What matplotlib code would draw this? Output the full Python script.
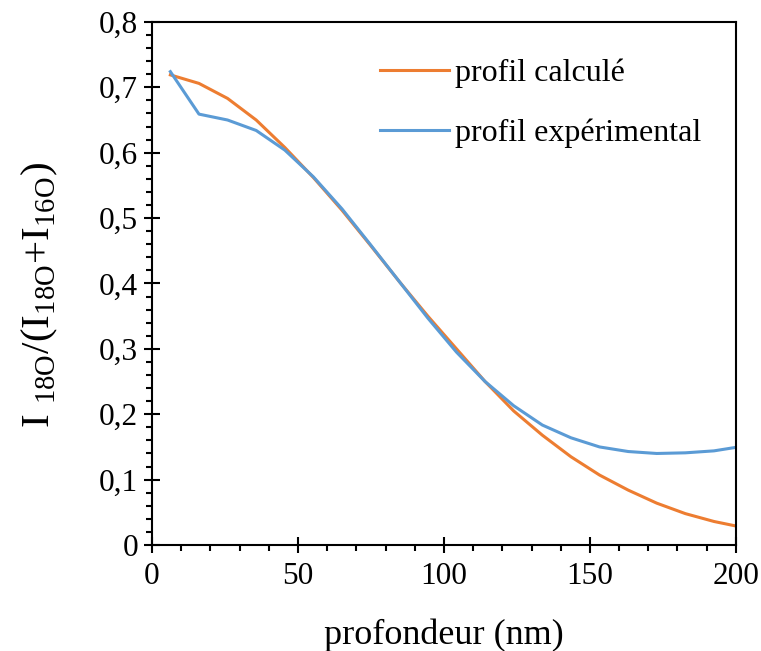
import numpy as np
import matplotlib
matplotlib.use("Agg")
import matplotlib.pyplot as plt
from matplotlib.ticker import MultipleLocator, FuncFormatter

# depth (nm) and intensity ratio
profondeur = [6.3, 16.1, 25.9, 35.7, 45.5, 55.3, 65.1, 74.9, 84.7, 94.5, 104.3,
              114.1, 123.9, 133.7, 143.5, 153.3, 163.1, 172.9, 182.7, 192.5, 202.3]
profil_calcule = [0.719, 0.706, 0.683, 0.650, 0.608, 0.562, 0.512, 0.458, 0.403,
                  0.350, 0.300, 0.250, 0.205, 0.168, 0.135, 0.107, 0.084, 0.064,
                  0.048, 0.036, 0.027]
profil_experimental = [0.724, 0.659, 0.650, 0.634, 0.604, 0.563, 0.514, 0.459, 0.403,
                       0.347, 0.295, 0.250, 0.213, 0.1835, 0.164, 0.150, 0.143, 0.140,
                       0.141, 0.144, 0.151]

plt.rcParams["font.family"] = "Liberation Serif"
plt.rcParams["mathtext.fontset"] = "custom"
plt.rcParams["mathtext.rm"] = "Liberation Serif"

fig = plt.figure(figsize=(7.61, 6.51), dpi=100)
ax = fig.add_axes([0.1997, 0.1628, 0.7673, 0.8035])

ax.plot(profondeur, profil_calcule, color="#ED7D31", lw=2.2, label="profil calculé")
ax.plot(profondeur, profil_experimental, color="#5B9BD5", lw=2.2, label="profil expérimental")

ax.set_xlim(0, 200)
ax.set_ylim(0, 0.8)
ax.xaxis.set_major_locator(MultipleLocator(50))
ax.xaxis.set_minor_locator(MultipleLocator(10))
ax.yaxis.set_major_locator(MultipleLocator(0.1))
ax.yaxis.set_minor_locator(MultipleLocator(0.02))
ax.yaxis.set_major_formatter(FuncFormatter(lambda v, p: "0" if abs(v) < 1e-9 else f"{v:.1f}".replace(".", ",")))

ax.tick_params(which="major", direction="inout", length=12, width=1.5, labelsize=22.5,
               top=False, right=False)
ax.tick_params(axis="y", which="major", pad=4)
ax.tick_params(axis="x", which="major", pad=6)
ax.tick_params(which="minor", direction="out", length=4.5, width=1.5, top=False, right=False)
for s in ax.spines.values():
    s.set_linewidth(1.5)

ax.set_xlabel("profondeur (nm)", fontsize=26, labelpad=20)
ax.set_ylabel(r"I $_{\mathrm{18O}}$/(I$_{\mathrm{18O}}$+I$_{\mathrm{16O}}$)", fontsize=29.5)
ax.yaxis.set_label_coords(-0.158, 0.478)

ax.legend(loc="upper right", bbox_to_anchor=(0.99, 0.985), frameon=False, fontsize=23,
          handlelength=2.15, handletextpad=0.2, labelspacing=0.95)

fig.savefig("out.png", dpi=100)
